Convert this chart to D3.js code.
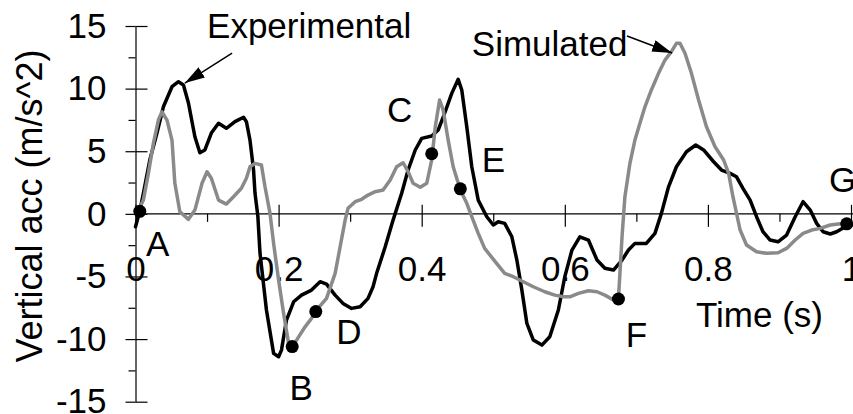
<!DOCTYPE html>
<html lang="en">
<head>
<meta charset="utf-8">
<title>Vertical acceleration</title>
<script src="https://cdn.jsdelivr.net/npm/d3@7"></script>
<style>
body { margin: 0; overflow: hidden; background: #fff; }
text { font-family: "Liberation Sans", Arial, sans-serif; font-size: 35px; fill: #000; }
.axis-title { font-size: 36px; }
.domain { stroke: #000; stroke-width: 1.2; }
.tick line { stroke: #000; stroke-width: 1.2; }
.line-path { fill: none; stroke-width: 3.5; stroke-linejoin: round; stroke-linecap: round; }
</style>
</head>
<body>
<script>
// measured curves, [time (s), acc (m/s^2)]
const experimental = [
  [0.000,-1.03],[0.006,0.22],[0.011,1.64],[0.020,4.30],[0.030,6.45],[0.039,8.55],[0.051,10.15],
  [0.060,10.55],[0.067,10.29],[0.074,8.85],[0.083,6.16],[0.090,4.88],[0.097,5.10],[0.106,6.45],
  [0.116,7.23],[0.127,6.83],[0.139,7.36],[0.151,7.71],[0.155,7.36],[0.160,5.89],[0.165,3.50],
  [0.167,1.66],[0.171,-0.18],[0.174,-3.13],[0.183,-7.68],[0.193,-11.14],[0.200,-11.41],
  [0.204,-10.88],[0.211,-8.48],[0.221,-7.02],[0.232,-6.49],[0.246,-6.09],[0.258,-5.42],
  [0.267,-5.61],[0.279,-6.49],[0.290,-7.15],[0.302,-7.55],[0.314,-7.42],[0.325,-6.75],
  [0.332,-5.82],[0.337,-4.75],[0.349,-2.63],[0.360,-0.50],[0.372,1.64],[0.381,3.50],
  [0.391,5.10],[0.400,6.03],[0.414,6.21],[0.423,6.69],[0.432,8.03],[0.442,9.62],[0.451,10.74],
  [0.456,9.89],[0.463,6.96],[0.470,3.76],[0.479,1.10],[0.491,-0.23],[0.500,-0.89],[0.507,-0.63],
  [0.516,-0.76],[0.526,-1.83],[0.533,-3.69],[0.540,-6.09],[0.547,-8.75],[0.556,-10.08],
  [0.568,-10.48],[0.579,-9.82],[0.591,-7.68],[0.600,-5.02],[0.610,-2.89],[0.621,-1.83],
  [0.633,-2.09],[0.645,-3.69],[0.656,-4.35],[0.668,-4.49],[0.680,-3.69],[0.689,-2.89],
  [0.698,-2.36],[0.714,-2.36],[0.726,-1.56],[0.735,0.04],[0.745,2.16],[0.756,3.76],[0.770,4.96],
  [0.783,5.50],[0.794,5.10],[0.808,4.16],[0.819,3.50],[0.831,3.23],[0.840,2.96],[0.849,2.04],
  [0.859,1.10],[0.868,-0.23],[0.877,-1.43],[0.887,-2.09],[0.898,-2.23],[0.910,-1.69],
  [0.922,-0.23],[0.933,0.97],[0.943,0.30],[0.952,-0.76],[0.961,-1.43],[0.971,-1.61],
  [0.980,-1.43],[0.992,-1.03],[1.001,-0.89]
];

const simulated = [
  [0.002,0.04],[0.011,1.10],[0.018,3.23],[0.025,5.63],[0.032,7.49],[0.037,8.15],[0.044,7.49],
  [0.051,5.89],[0.055,2.44],[0.062,0.17],[0.074,-0.44],[0.083,0.30],[0.093,2.44],[0.100,3.36],
  [0.106,2.84],[0.116,1.10],[0.127,0.78],[0.137,1.37],[0.148,2.04],[0.155,2.84],[0.160,3.76],
  [0.167,4.03],[0.176,3.90],[0.181,2.16],[0.188,0.04],[0.193,-2.36],[0.200,-5.29],[0.207,-7.95],
  [0.214,-10.34],[0.218,-10.74],[0.228,-9.82],[0.237,-9.02],[0.246,-8.35],[0.255,-7.55],
  [0.267,-6.75],[0.279,-4.75],[0.286,-2.63],[0.293,-0.50],[0.297,0.44],[0.307,0.97],[0.316,1.16],
  [0.325,1.50],[0.335,1.77],[0.346,1.90],[0.356,2.70],[0.365,3.76],[0.374,4.08],[0.381,3.36],
  [0.388,2.44],[0.398,2.12],[0.407,2.44],[0.414,4.30],[0.419,6.96],[0.425,9.09],[0.430,8.29],
  [0.437,5.89],[0.444,3.76],[0.454,1.90],[0.463,0.84],[0.470,-0.23],[0.479,-1.56],[0.488,-2.76],
  [0.501,-3.69],[0.516,-4.75],[0.528,-5.02],[0.542,-5.42],[0.556,-5.82],[0.572,-6.22],
  [0.586,-6.49],[0.598,-6.62],[0.607,-6.62],[0.619,-6.35],[0.633,-6.14],[0.645,-6.22],
  [0.656,-6.49],[0.668,-6.88],[0.675,-6.75],[0.680,-1.83],[0.684,1.37],[0.691,4.03],[0.698,5.89],
  [0.705,7.23],[0.712,8.55],[0.721,9.89],[0.731,11.22],[0.740,12.28],[0.749,12.95],[0.756,13.62],
  [0.761,13.62],[0.768,12.82],[0.777,11.22],[0.787,9.09],[0.798,6.96],[0.810,5.36],[0.822,4.30],
  [0.829,3.23],[0.835,1.37],[0.838,0.57],[0.845,-1.29],[0.854,-2.49],[0.868,-3.03],[0.882,-3.15],
  [0.898,-3.11],[0.910,-2.76],[0.922,-2.09],[0.933,-1.56],[0.945,-1.29],[0.957,-1.16],
  [0.971,-0.89],[0.982,-0.81],[0.994,-0.76]
];

// key points
const pointNames = ["A", "B", "C", "D", "E", "F", "G"];
const pointTimes = [0.006, 0.219, 0.414, 0.252, 0.454, 0.675, 0.994];
const pointAccs  = [0.2, -10.6, 4.8, -7.8, 2.0, -6.8, -0.8];

// series callouts: text anchor point, arrow tail, arrow tip (data units)
const calloutTexts = ["Experimental", "Simulated"];
const calloutTextAt = [[0.100, 14.04], [0.470, 12.6]];
const calloutArrows = [[[0.135, 12.84], [0.069, 10.44]], [[0.687, 14.2], [0.750, 12.84]]];

const xMajor = [0, 0.2, 0.4, 0.6, 0.8, 1];
const xMinor = [0.1, 0.3, 0.5, 0.7, 0.9];
const xTickLabels = ["0", "0.2", "0.4", "0.6", "0.8", "1"];
const yMajor = [-15, -10, -5, 0, 5, 10, 15];
const yMinor = [-12.5, -7.5, -2.5, 2.5, 7.5, 12.5];

const xAxisLabel = "Time (s)";
const yAxisLabel = "Vertical acc (m/s^2)";

// layout
const width = 853, height = 414;
// label offsets from each key point, in pixels [dx, dy of baseline]
const pointLabelOffsets = [[18, 45], [9, 53], [-32, -32], [33, 32], [33, -17], [18, 48], [-4, -32]];

const svg = d3.select("body").append("svg")
  .attr("width", width)
  .attr("height", height);

const x = d3.scaleLinear().domain([0, 1]).range([135.5, 851]);
const y = d3.scaleLinear().domain([-15, 15]).range([401.7, 26]);

// y axis
const yAxisG = svg.append("g").attr("transform", `translate(${x(0)},0)`);
yAxisG.append("g")
  .call(d3.axisLeft(y).tickValues(yMajor).tickSize(10).tickSizeOuter(0).tickPadding(19)
    .tickFormat(d => String(d)));
yAxisG.append("g")
  .call(d3.axisRight(y).tickValues(yMajor).tickSize(12).tickFormat(""))
  .call(g => g.select(".domain").remove());
yAxisG.append("g")
  .call(d3.axisLeft(y).tickValues(yMinor).tickSize(7).tickFormat(""))
  .call(g => g.select(".domain").remove());

// x axis through zero
const xAxisG = svg.append("g").attr("transform", `translate(0,${y(0)})`);
xAxisG.append("g")
  .call(d3.axisBottom(x).tickValues(xMajor).tickSize(13).tickSizeOuter(0).tickFormat(""));
xAxisG.select(".domain").attr("d", `M${x(0)},0H${width}`);
xAxisG.append("g")
  .call(d3.axisTop(x).tickValues(xMajor).tickSize(9).tickFormat(""))
  .call(g => g.select(".domain").remove());
xAxisG.append("g")
  .call(d3.axisBottom(x).tickValues(xMinor).tickSize(8).tickFormat(""))
  .call(g => g.select(".domain").remove());
xAxisG.append("g")
  .call(d3.axisBottom(x).tickValues(xMajor).tickSize(0).tickPadding(42)
    .tickFormat((d, i) => xTickLabels[i]))
  .call(g => g.select(".domain").remove());

svg.selectAll(".tick text").attr("fill", "#000");

// axis titles
svg.append("text")
  .attr("x", 696)
  .attr("y", 327)
  .text(xAxisLabel);

svg.append("text")
  .attr("class", "axis-title")
  .attr("transform", "translate(42,206) rotate(-90)")
  .attr("text-anchor", "middle")
  .text(yAxisLabel);

// curves
const line = d3.line()
  .x(d => x(d[0]))
  .y(d => y(d[1]));

svg.append("path")
  .attr("class", "line-path")
  .attr("stroke", "#000")
  .attr("d", line(experimental));

svg.append("path")
  .attr("class", "line-path")
  .attr("stroke", "#8a8a8a")
  .attr("d", line(simulated));

// key points
svg.selectAll("circle")
  .data(pointNames)
  .enter()
  .append("circle")
  .attr("cx", (d, i) => x(pointTimes[i]))
  .attr("cy", (d, i) => y(pointAccs[i]))
  .attr("r", 6.5)
  .attr("fill", "#000");

svg.selectAll(".point-label")
  .data(pointNames)
  .enter()
  .append("text")
  .attr("class", "point-label")
  .attr("x", (d, i) => x(pointTimes[i]) + pointLabelOffsets[i][0])
  .attr("y", (d, i) => y(pointAccs[i]) + pointLabelOffsets[i][1])
  .attr("text-anchor", "middle")
  .text(d => d);

// callouts
svg.append("defs").append("marker")
  .attr("id", "arrow")
  .attr("markerUnits", "userSpaceOnUse")
  .attr("viewBox", "0 0 20 12")
  .attr("refX", 20)
  .attr("refY", 6)
  .attr("markerWidth", 20)
  .attr("markerHeight", 12)
  .attr("orient", "auto")
  .append("path")
  .attr("d", "M0,0L20,6L0,12Z")
  .attr("fill", "#000");

calloutTexts.forEach((t, i) => {
  svg.append("text")
    .attr("x", x(calloutTextAt[i][0]))
    .attr("y", y(calloutTextAt[i][1]))
    .text(t);
  const a = calloutArrows[i];
  svg.append("line")
    .attr("x1", x(a[0][0])).attr("y1", y(a[0][1]))
    .attr("x2", x(a[1][0])).attr("y2", y(a[1][1]))
    .attr("stroke", "#000")
    .attr("stroke-width", 1.5)
    .attr("marker-end", "url(#arrow)");
});
</script>
</body>
</html>
